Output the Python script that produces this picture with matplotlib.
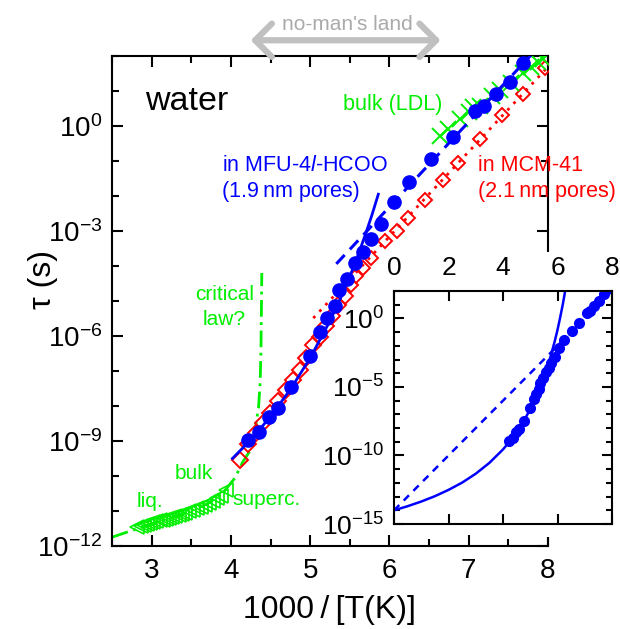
import numpy as np
import matplotlib
matplotlib.use('Agg')
from matplotlib import pyplot as plt
from matplotlib.patches import Rectangle, FancyArrowPatch
from matplotlib.ticker import NullFormatter, LogFormatterSciNotation, FixedLocator

plt.rcParams['font.family'] = ['Liberation Sans', 'DejaVu Sans']
plt.rcParams['mathtext.fontset'] = 'custom'
plt.rcParams['mathtext.rm'] = 'Liberation Sans'
plt.rcParams['mathtext.it'] = 'Liberation Sans:italic'
plt.rcParams['mathtext.bf'] = 'Liberation Sans:bold'

BLUE = '#0000ff'
RED = '#ff0000'
GREEN = '#00ee00'
GREY = '#aaaaaa'

# water in MFU-4l-HCOO, 1000/T and log10(tau/s)
mfu_x = [4.22, 4.35, 4.48, 4.60, 4.76, 5.00, 5.12, 5.21, 5.31, 5.37, 5.46, 5.56,
         5.67, 5.77, 5.89, 6.06, 6.25, 6.53, 6.80, 7.08, 7.19, 7.35, 7.52, 7.69]
mfu_log = [-8.97, -8.73, -8.31, -8.07, -7.47, -6.57, -5.90, -5.49, -5.14, -4.70, -4.38, -3.92,
           -3.59, -3.24, -2.80, -2.18, -1.59, -0.95, -0.31, 0.42, 0.57, 0.91, 1.27, 1.81]

# VFT curve (solid) and Arrhenius line (dashed) for MFU-4l-HCOO, main panel
vft_x = [4.02, 4.25, 4.50, 4.75, 5.00, 5.25, 5.40, 5.50, 5.60, 5.70, 5.78, 5.86]
vft_log = [-9.50, -8.97, -8.30, -7.53, -6.63, -5.57, -4.84, -4.30, -3.72, -3.08, -2.54, -1.95]
arr_x = [5.33, 7.80]
arr_log = [-3.94, 2.06]

# water in MCM-41
mcm_x = [4.11, 4.22, 4.32, 4.41, 4.49, 4.60, 4.70, 4.79, 4.87, 4.95, 5.04, 5.12, 5.20, 5.27, 5.35,
         5.44, 5.51, 5.58, 5.67, 5.77, 5.95, 6.09, 6.24, 6.45, 6.68, 6.87, 7.14, 7.42, 7.68, 7.96]
mcm_log = [-9.54, -9.10, -8.78, -8.50, -8.21, -7.85, -7.54, -7.25, -6.97, -6.62, -6.25, -6.02, -5.72, -5.42, -5.12,
           -4.85, -4.55, -4.30, -4.05, -3.78, -3.28, -2.99, -2.62, -2.11, -1.54, -1.05, -0.38, 0.31, 0.91, 1.65]
mcm_fit_x = [5.04, 8.00]
mcm_fit_log = [-5.49, 1.69]

# bulk water, LDL
ldl_x = [6.64, 6.74, 6.89, 7.00, 7.06, 7.14, 7.29, 7.40, 7.53, 7.69, 7.79, 7.88, 7.94]
ldl_log = [-0.28, -0.09, 0.19, 0.40, 0.53, 0.58, 0.87, 1.03, 1.24, 1.50, 1.68, 1.82, 1.91]

# bulk liquid / supercooled water
liq_x = [2.81, 2.86, 2.90, 2.94, 2.98, 3.02, 3.06, 3.10, 3.14, 3.18, 3.22, 3.26, 3.30,
         3.34, 3.38, 3.42, 3.47, 3.52, 3.57, 3.62, 3.67, 3.72, 3.77, 3.82, 3.87, 3.94]
liq_log = [-11.45, -11.42, -11.39, -11.37, -11.35, -11.32, -11.30, -11.27, -11.25, -11.22, -11.20, -11.17, -11.14,
           -11.11, -11.08, -11.05, -11.01, -10.97, -10.92, -10.88, -10.83, -10.77, -10.71, -10.64, -10.57, -10.40]

# critical law
crit_x = [2.50, 2.80, 3.10, 3.40, 3.70, 3.90, 4.05, 4.15, 4.25, 4.31, 4.35, 4.37, 4.38, 4.385, 4.39]
crit_log = [-11.75, -11.52, -11.30, -11.08, -10.80, -10.48, -10.06, -9.60, -9.25, -8.62, -8.02, -7.30, -6.30, -5.30, -4.20]

# inset: VFT and Arrhenius over the full range
ins_vft_x = [0.0, 0.5, 1.0, 1.5, 2.0, 2.5, 3.0, 3.5, 4.0, 4.25, 4.5, 4.75, 5.0, 5.25, 5.4, 5.5,
             5.6, 5.75, 5.9, 6.0, 6.1, 6.2, 6.3]
ins_vft_log = [-14.0, -13.70, -13.36, -12.97, -12.51, -11.98, -11.33, -10.54, -9.56, -8.97, -8.30, -7.53,
               -6.63, -5.57, -4.84, -4.30, -3.72, -2.75, -1.65, -0.84, 0.09, 1.08, 2.22]
ins_arr_x = [0.0, 8.0]
ins_arr_log = [-14.0, 2.0]


def p(v):
    return [10.0 ** a for a in v]


fig = plt.figure(figsize=(6.2, 6.29), dpi=100)
ax = fig.add_axes([0.1806, 0.132, 0.7032, 0.779])
ax.set_yscale('log')

ax.plot(crit_x, p(crit_log), color=GREEN, lw=2, ls=(0, (6, 2, 1, 2)), zorder=2)
ax.plot(liq_x, p(liq_log), ls='none', marker='<', ms=10, mfc='none', mec=GREEN, mew=1.2, zorder=3)
ax.plot(mcm_fit_x, p(mcm_fit_log), color=RED, lw=2, ls=(0, (1, 2.2)), zorder=2)
# lower-T diamonds are drawn a bit larger, as in the figure
ax.plot(mcm_x[:16], p(mcm_log[:16]), ls='none', marker='D', ms=8, mfc='none', mec=RED, mew=1.4, zorder=3)
ax.plot(mcm_x[16:], p(mcm_log[16:]), ls='none', marker='D', ms=7, mfc='none', mec=RED, mew=1.4, zorder=3)
ax.plot(ldl_x, p(ldl_log), ls='none', marker='x', ms=12, mec=GREEN, mew=1.4, zorder=4)
ax.plot(vft_x, p(vft_log), color=BLUE, lw=2, zorder=4)
ax.plot(arr_x, p(arr_log), color=BLUE, lw=2.2, ls=(0, (4, 2.5)), zorder=4)
ax.plot(mfu_x, p(mfu_log), ls='none', marker='o', ms=9.5, color=BLUE, zorder=5)

ax.set_xlim(2.5, 8.0)
ax.set_ylim(1e-12, 1e2)
ax.set_xticks([3, 4, 5, 6, 7, 8])
ax.set_xticks([2.5, 3.5, 4.5, 5.5, 6.5, 7.5], minor=True)
ax.yaxis.set_major_locator(FixedLocator([1e-12, 1e-9, 1e-6, 1e-3, 1e0]))
ax.yaxis.set_minor_locator(FixedLocator([10.0 ** k for k in range(-12, 3)]))
ax.yaxis.set_major_formatter(LogFormatterSciNotation())
ax.yaxis.set_minor_formatter(NullFormatter())
ax.tick_params(which='both', direction='in', top=True, right=True, width=1.5, labelsize=20)
ax.tick_params(which='major', length=8)
ax.tick_params(which='minor', length=5)
ax.tick_params(axis='x', pad=9)
ax.tick_params(axis='y', pad=7)
for s in ax.spines.values():
    s.set_linewidth(1.5)

ax.set_xlabel('1000\u2009/\u2009[T(K)]', fontsize=23, va='center')
ax.xaxis.set_label_coords(0.498, -0.13)
ax.set_ylabel('\u03c4 (s)', fontsize=23, va='center')
ax.yaxis.set_label_coords(-0.158, 0.543)

# white box hiding the right frame behind the inset
ax.add_patch(Rectangle((0.84, 0.147), 0.07, 0.452, transform=fig.transFigure,
                       facecolor='white', edgecolor='none', zorder=10, clip_on=False))

ax.text(2.92, 10 ** 0.45, 'water', fontsize=24.5, color='black', va='baseline')
ax.text(5.41, 10 ** 0.45, 'bulk (LDL)', fontsize=15.5, color=GREEN, va='baseline')
ax.text(3.89, 10 ** -1.30, r'in MFU-4$\mathit{l}$-HCOO', fontsize=15.5, color=BLUE, va='baseline')
ax.text(3.89, 10 ** -2.03, '(1.9\u2009nm pores)', fontsize=15.5, color=BLUE, va='baseline')
ax.text(7.12, 10 ** -1.30, 'in MCM-41', fontsize=15.5, color=RED, va='baseline')
ax.text(7.12, 10 ** -2.03, '(2.1\u2009nm pores)', fontsize=15.5, color=RED, va='baseline')
ax.text(3.92, 10 ** -4.97, 'critical', fontsize=15, color=GREEN, va='baseline', ha='center')
ax.text(3.92, 10 ** -5.69, 'law?', fontsize=15, color=GREEN, va='baseline', ha='center')
ax.text(3.29, 10 ** -10.09, 'bulk', fontsize=15, color=GREEN, va='baseline')
ax.text(2.81, 10 ** -10.89, 'liq.', fontsize=15, color=GREEN, va='baseline')
ax.text(4.02, 10 ** -10.83, 'superc.', fontsize=15, color=GREEN, va='baseline')

fig.text(0.56, 0.952, "no-man's land", fontsize=15, color=GREY, ha='center', va='baseline')
fig.patches.append(FancyArrowPatch((0.400, 0.936), (0.715, 0.936), transform=fig.transFigure,
                                   arrowstyle='<->,head_length=0.6,head_width=0.6',
                                   mutation_scale=20, lw=4.5, color='#c0c0c0'))

# inset
ins = fig.add_axes([0.6355, 0.1669, 0.3516, 0.3705])
ins.set_yscale('log')
ins.plot(ins_vft_x, p(ins_vft_log), color=BLUE, lw=1.8)
ins.plot(ins_arr_x, p(ins_arr_log), color=BLUE, lw=1.8, ls=(0, (3, 2.5)))
ins.plot(mfu_x, p(mfu_log), ls='none', marker='o', ms=7, color=BLUE)
ins.set_xlim(0, 8)
ins.set_ylim(1e-15, 1e2)
ins.set_xticks([0, 2, 4, 6, 8])
ins.yaxis.set_major_locator(FixedLocator([1e-15, 1e-10, 1e-5, 1e0]))
ins.yaxis.set_minor_locator(FixedLocator([10.0 ** k for k in range(-15, 3)]))
ins.yaxis.set_major_formatter(LogFormatterSciNotation())
ins.yaxis.set_minor_formatter(NullFormatter())
ins.xaxis.tick_top()
ins.tick_params(which='both', direction='in', top=True, bottom=True, left=True, right=True,
                width=1.5, labelsize=19)
ins.tick_params(axis='x', labeltop=True, labelbottom=False, pad=8)
ins.tick_params(axis='y', pad=7)
ins.tick_params(which='major', length=7)
ins.tick_params(which='minor', length=4)
for s in ins.spines.values():
    s.set_linewidth(1.5)

fig.savefig('out.png', dpi=100)
